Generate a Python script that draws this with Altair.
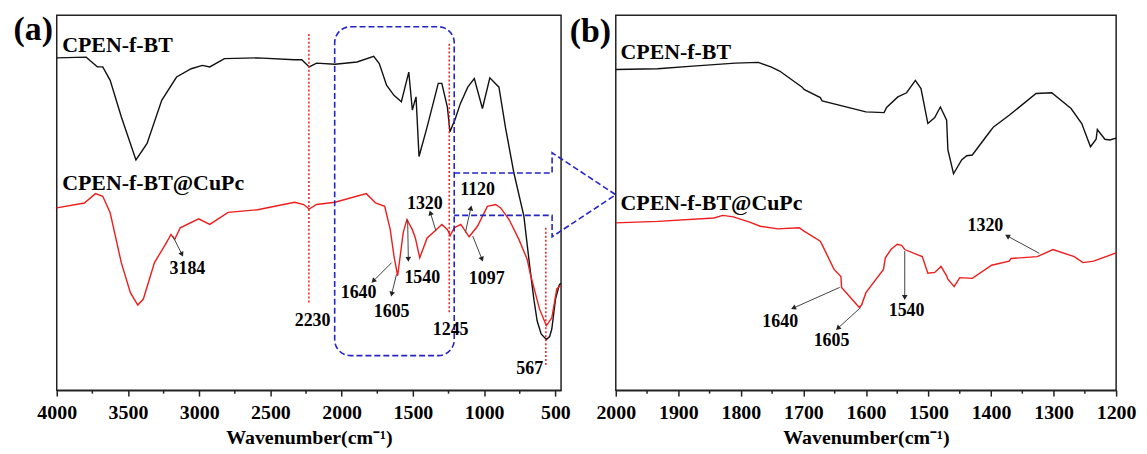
import math
import altair as alt
import pandas as pd

# ---------------- data ----------------
# panel (a): full range spectra
a_black_wn = [4000, 3793, 3767, 3715, 3677, 3625, 3547, 3444, 3366, 3263, 3159, 3056, 2978, 2926, 2823,
              2590, 2331, 2280, 2228, 2176, 2047, 1892, 1775, 1736, 1685, 1633, 1581, 1529, 1504, 1478,
              1457, 1400, 1322, 1297, 1258, 1240, 1206, 1167, 1115, 1069, 1012, 960, 896, 850, 791,
              721, 680, 650, 628, 600, 563, 540, 525, 499, 473, 462]
a_black_t = [88.6, 88.8, 87.9, 86.2, 86.2, 82.6, 72.9, 61.4, 65.8, 77.3, 83.5, 85.7, 86.6, 86.2, 88.4,
             88.6, 88.1, 88.1, 86.2, 87.2, 86.9, 87.5, 89.0, 87.1, 81.3, 78.6, 76.9, 84.8, 74.7, 78.2,
             62.3, 70.2, 81.8, 81.8, 75.5, 68.9, 72.0, 76.4, 80.8, 83.1, 75.1, 83.3, 80.8, 70.0, 57.9,
             46.4, 33.0, 24.0, 18.5, 15.0, 13.5, 14.3, 16.3, 24.3, 28.0, 28.5]
a_red_wn = [4000, 3806, 3728, 3677, 3625, 3547, 3483, 3431, 3392, 3314, 3237, 3198, 3172, 3133, 3004,
            2926, 2797, 2590, 2331, 2267, 2228, 2176, 2047, 1827, 1762, 1698, 1659, 1633, 1607, 1568,
            1542, 1504, 1483, 1473, 1452, 1400, 1348, 1297, 1257, 1238, 1210, 1164, 1105, 1047, 977,
            919, 884, 825, 756, 698, 676, 611, 563, 525, 490, 462]
a_red_t = [48.6, 49.9, 52.4, 51.7, 47.3, 34.0, 26.0, 22.7, 24.3, 34.0, 38.9, 41.5, 40.2, 43.3, 45.7,
           44.2, 47.4, 48.1, 50.1, 49.5, 48.3, 49.5, 50.1, 52.4, 49.9, 49.0, 42.8, 35.8, 30.5, 42.0,
           45.5, 42.8, 40.6, 38.9, 35.3, 40.6, 42.4, 44.2, 42.8, 41.2, 43.3, 44.2, 40.9, 43.7, 49.0,
           49.5, 48.6, 45.5, 40.2, 34.9, 31.0, 21.6, 17.2, 19.3, 27.0, 28.0]

# panel (b): 2000-1200 zoom
b_black_wn = [2000, 1933, 1877, 1809, 1772, 1752, 1738, 1702, 1699, 1673, 1670, 1600, 1571, 1567, 1549,
              1535, 1521, 1512, 1501, 1490, 1481, 1471, 1469, 1460, 1447, 1439, 1430, 1402, 1396, 1371,
              1328, 1303, 1272, 1255, 1241, 1232, 1230, 1218, 1210, 1200]
b_black_t = [85.5, 85.7, 86.4, 87.2, 87.4, 86.2, 85.1, 80.8, 80.2, 78.0, 77.1, 74.2, 74.0, 75.4, 78.2,
             79.3, 82.6, 80.4, 71.1, 72.7, 75.5, 72.0, 64.1, 57.7, 61.4, 62.5, 62.7, 68.9, 70.2, 73.3,
             79.1, 79.3, 75.1, 71.1, 64.9, 66.9, 69.5, 66.9, 66.7, 67.2]
b_red_wn = [2000, 1933, 1843, 1829, 1812, 1786, 1769, 1741, 1707, 1699, 1673, 1669, 1651, 1640, 1639,
            1611, 1607, 1600, 1572, 1569, 1560, 1550, 1543, 1538, 1510, 1501, 1490, 1480, 1471, 1469,
            1459, 1450, 1430, 1399, 1371, 1368, 1326, 1301, 1267, 1253, 1236, 1200]
b_red_t = [44.6, 45.0, 45.9, 46.6, 46.2, 44.8, 43.7, 43.0, 43.3, 42.4, 39.7, 38.4, 32.2, 30.3, 27.4,
           22.1, 22.7, 26.0, 32.2, 35.3, 37.5, 38.9, 38.6, 37.5, 35.6, 31.2, 31.4, 33.0, 30.5, 29.6,
           27.6, 30.0, 29.8, 33.3, 34.4, 35.1, 35.6, 37.5, 35.6, 34.0, 34.4, 36.6]

series_names = ["CPEN-f-BT", "CPEN-f-BT@CuPc"]

# annotations panel (a)
a_peak_labels = ["3184", "1640", "1605", "1540", "1320", "1120", "1097", "2230", "1245", "567"]
a_peak_wn = [3083, 1881, 1649, 1434, 1416, 1046, 982, 2204, 1235, 680]
a_peak_t = [32.2, 26.0, 20.7, 30.0, 49.7, 53.3, 29.6, 18.5, 15.9, 5.7]
a_arrow_x1 = [3186, 1649, 1615, 1537, 1338, 1132, 1080]
a_arrow_y1 = [41.1, 34.0, 30.9, 45.5, 42.4, 42.0, 41.1]
a_arrow_x2 = [3121, 1778, 1649, 1532, 1377, 1093, 1015]
a_arrow_y2 = [36.2, 29.1, 25.6, 34.9, 47.3, 48.6, 34.9]
a_mark_wn = [2230, 1245, 567]
a_mark_top = [95.0, 92.4, 43.3]
a_mark_bot = [23.4, 20.7, 6.2]
a_box_wn = [2049, 1210]
a_box_t = [96.9, 9.2]
a_link_wn = [1210, 523, 523, 76, 523, 523, 1210]
a_link_t = [57.9, 57.9, 63.3, 52.1, 40.9, 46.6, 46.6]
a_name_wn = [3962, 3962]
a_name_t = [90.1, 53.4]

# annotations panel (b)
b_peak_labels = ["1640", "1605", "1540", "1320"]
b_peak_wn = [1737, 1655, 1535, 1409]
b_peak_t = [18.1, 13.2, 21.2, 43.7]
b_arrow_x1 = [1642, 1608, 1538, 1323]
b_arrow_y1 = [27.4, 22.1, 37.1, 36.5]
b_arrow_x2 = [1716, 1645, 1538, 1374]
b_arrow_y2 = [21.9, 16.5, 24.7, 41.1]
b_name_wn = [1992.5, 1992.5]
b_name_t = [88.4, 48.1]

a_ticks = [4000, 3500, 3000, 2500, 2000, 1500, 1000, 500]
a_minor = [3750, 3250, 2750, 2250, 1750, 1250, 750]
b_ticks = [2000, 1900, 1800, 1700, 1600, 1500, 1400, 1300, 1200]
b_minor = [1950, 1850, 1750, 1650, 1550, 1450, 1350, 1250]

# ---------------- styling ----------------
FONT = "Liberation Serif"
W_A, W_B, H = 507, 503, 377
GAP = 55
A_DOM = [460, 4000]
B_DOM = [1200, 2000]
RED = "#ee1c1c"
BLUE = "#2424c8"
DARK = "#222222"
TITLE = "Wavenumber(cm\u207b\u00b9)"


def make_axis(values):
    return alt.Axis(values=values, title=TITLE, format="d", grid=False, labelFlush=False,
                    labelOverlap=False, tickSize=6, tickWidth=1.5, tickColor=DARK,
                    domainColor=DARK, domainWidth=1.5, labelFont=FONT, labelFontSize=20,
                    labelFontWeight="bold", labelColor="black", labelPadding=7,
                    titleFont=FONT, titleFontSize=20, titleFontWeight="bold",
                    titleColor="black", titlePadding=5)


def panel(dom, ticks, minor, width, curves, peaks, arrows, names, letter, marks=None,
          box=None, link=None):
    axis = make_axis(ticks)
    xs = alt.Scale(domain=dom, reverse=True, nice=False, zero=False)
    ys = alt.Scale(domain=[0, 100], nice=False, zero=False)

    def X(f):
        return alt.X(f, type="quantitative", scale=xs, axis=axis)

    def Y(f):
        return alt.Y(f, type="quantitative", scale=ys, axis=None)

    layers = []
    for (wn, t, color) in curves:
        df = pd.DataFrame({"wn": wn, "t": t, "i": range(len(wn))})
        layers.append(alt.Chart(df).mark_line(color=color, strokeWidth=1.4).encode(
            x=X("wn"), y=Y("t"), order="i"))

    mdf = pd.DataFrame({"wn": minor})
    layers.append(alt.Chart(mdf).mark_rule(color=DARK, strokeWidth=1.5).encode(
        x=X("wn"), y=alt.value(H), y2=alt.value(H + 3.5)))

    if marks is not None:
        rdf = pd.DataFrame({"wn": marks[0], "t": marks[1], "t2": marks[2]})
        layers.append(alt.Chart(rdf).mark_rule(color=RED, strokeWidth=1.5, strokeDash=[2, 2]).encode(
            x=X("wn"), y=Y("t"), y2="t2"))

    if box is not None:
        bdf = pd.DataFrame({"wn": [box[0][0]], "wn2": [box[0][1]], "t": [box[1][0]], "t2": [box[1][1]]})
        layers.append(alt.Chart(bdf).mark_rect(fill="transparent", stroke=BLUE, strokeWidth=1.6,
                                               strokeDash=[6, 3], cornerRadius=16).encode(
            x=X("wn"), x2="wn2", y=Y("t"), y2="t2"))

    if link is not None:
        ldf = pd.DataFrame({"wn": link[0], "t": link[1], "i": range(len(link[0]))})
        layers.append(alt.Chart(ldf).mark_line(color=BLUE, strokeWidth=1.6, strokeDash=[6, 3]).encode(
            x=X("wn"), y=Y("t"), order="i"))

    # arrows
    kx = width / (dom[1] - dom[0])
    ky = H / 100.0
    x1, y1, x2, y2 = arrows
    ang = []
    for a, b, c, d in zip(x1, y1, x2, y2):
        dx = -(c - a) * kx
        dy = -(d - b) * ky
        ang.append(math.degrees(math.atan2(dx, -dy)) % 360)
    adf = pd.DataFrame({"wn": x1, "t": y1, "wn2": x2, "t2": y2, "ang": ang})
    layers.append(alt.Chart(adf).mark_rule(color="#444444", strokeWidth=1).encode(
        x=X("wn"), x2="wn2", y=Y("t"), y2="t2"))
    layers.append(alt.Chart(adf).mark_point(shape="triangle-up", filled=True, size=32,
                                            color="#222222", opacity=1).encode(
        x=X("wn2"), y=Y("t2"), angle=alt.Angle("ang:Q", scale=None)))

    pdf = pd.DataFrame({"wn": peaks[1], "t": peaks[2], "label": peaks[0]})
    layers.append(alt.Chart(pdf).mark_text(font=FONT, fontSize=18, fontWeight="bold", color="black",
                                           align="center", baseline="middle").encode(
        x=X("wn"), y=Y("t"), text="label"))

    ndf = pd.DataFrame({"wn": names[0], "t": names[1], "label": series_names})
    layers.append(alt.Chart(ndf).mark_text(font=FONT, fontSize=22, fontWeight="bold", color="black",
                                           align="left", baseline="alphabetic").encode(
        x=X("wn"), y=Y("t"), text="label"))

    ldf2 = pd.DataFrame({"wn": [letter[1]], "t": [letter[2]], "label": [letter[0]]})
    layers.append(alt.Chart(ldf2).mark_text(font=FONT, fontSize=34, fontWeight="bold", color="black",
                                            align="center", baseline="middle").encode(
        x=X("wn"), y=Y("t"), text="label"))

    return alt.layer(*layers).properties(width=width, height=H)


left = panel(A_DOM, a_ticks, a_minor, W_A,
             [(a_black_wn, a_black_t, "#111111"), (a_red_wn, a_red_t, RED)],
             (a_peak_labels, a_peak_wn, a_peak_t),
             (a_arrow_x1, a_arrow_y1, a_arrow_x2, a_arrow_y2),
             (a_name_wn, a_name_t), ("(a)", 4165, 95.9),
             marks=(a_mark_wn, a_mark_top, a_mark_bot),
             box=(a_box_wn, a_box_t), link=(a_link_wn, a_link_t))

right = panel(B_DOM, b_ticks, b_minor, W_B,
              [(b_black_wn, b_black_t, "#111111"), (b_red_wn, b_red_t, RED)],
              (b_peak_labels, b_peak_wn, b_peak_t),
              (b_arrow_x1, b_arrow_y1, b_arrow_x2, b_arrow_y2),
              (b_name_wn, b_name_t), ("(b)", 2040.7, 95.4))

chart = alt.hconcat(left, right, spacing=GAP, bounds="flush").properties(
    padding={"left": 4, "top": 3, "right": 2, "bottom": 2},
    background="white",
).configure_view(stroke=DARK, strokeWidth=1.5)

chart.save("out.html", embed_options={"renderer": "svg", "actions": False})
